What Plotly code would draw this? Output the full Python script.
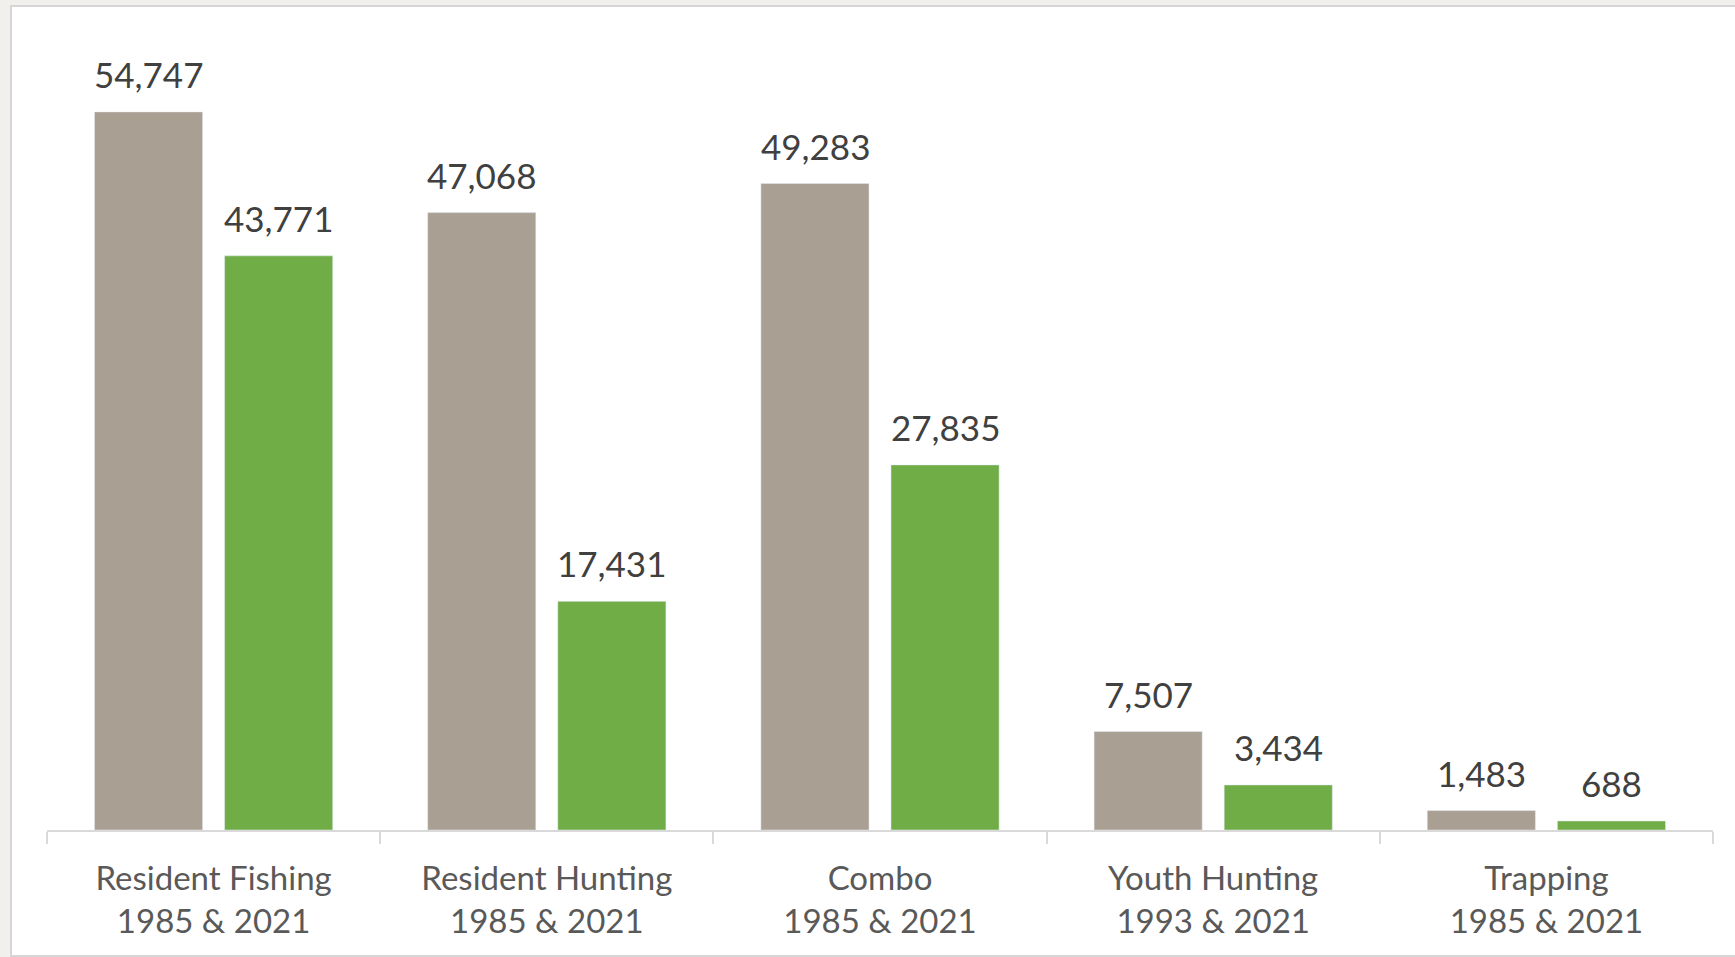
import plotly.graph_objects as go

categories = ["Resident Fishing<br>1985 & 2021", "Resident Hunting<br>1985 & 2021",
              "Combo<br>1985 & 2021", "Youth Hunting<br>1993 & 2021", "Trapping<br>1985 & 2021"]
first_year = [54747, 47068, 49283, 7507, 1483]
year_2021 = [43771, 17431, 27835, 3434, 688]

W, H = 1735, 957
ML, MR, MT, MB = 47, 22, 43, 127
pw = W - ML - MR
ph = H - MT - MB

GRAY = "#a99f93"
GREEN = "#70ad47"

fig = go.Figure()
fig.add_trace(go.Bar(x=categories, y=first_year, marker_color=GRAY, name="Earlier year"))
fig.add_trace(go.Bar(x=categories, y=year_2021, marker_color=GREEN, name="2021"))

annotations = []
for series, shift in ((first_year, -65), (year_2021, 65)):
    for c, v in zip(categories, series):
        annotations.append(dict(x=c, y=v, xref="x", yref="y", text=f"{v:,}", showarrow=False,
                                xshift=shift, yshift=15, yanchor="bottom",
                                font=dict(family="Lato", size=35, color="#404040")))

def px_x(p):
    return (p - ML) / pw

def px_y(p):
    return (H - MB - p) / ph

shapes = [
    dict(type="rect", xref="paper", yref="paper", x0=px_x(11), x1=px_x(1745), y0=px_y(956), y1=px_y(6),
         fillcolor="white", line=dict(color="#d6d6d6", width=2), layer="below"),
]

fig.update_layout(
    width=W, height=H,
    margin=dict(l=ML, r=MR, t=MT, b=MB),
    paper_bgcolor="#f1f0ec",
    plot_bgcolor="rgba(0,0,0,0)",
    barmode="group",
    bargap=0.219,
    bargroupgap=0.169,
    showlegend=False,
    annotations=annotations,
    shapes=shapes,
    xaxis=dict(showline=True, linecolor="#d9d9d9", linewidth=2, ticks="outside", tickson="boundaries",
               ticklen=12, tickcolor="#d9d9d9", tickwidth=2,
               tickfont=dict(family="Lato", size=33, color="#595959"), ticklabelstandoff=18),
    yaxis=dict(range=[0, 60000], visible=False, showgrid=False, zeroline=False),
)

fig.write_html("out.html", config={"displayModeBar": False},
               post_script="document.body.style.margin='0';document.body.style.background='#f1f0ec';")
